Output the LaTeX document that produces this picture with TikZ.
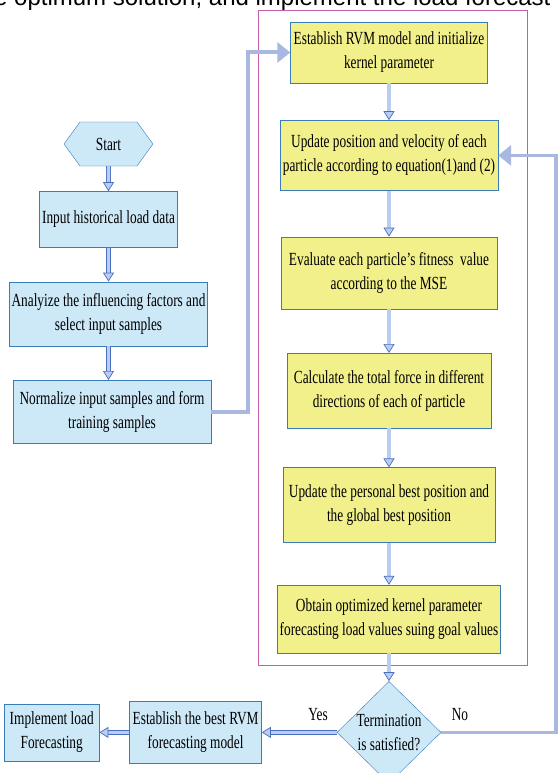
\documentclass[tikz,border=0pt]{standalone}
\usepackage{fontspec}
\setmainfont[FakeStretch=0.72]{Liberation Serif}
\newfontfamily\capfont{Liberation Sans}
\definecolor{yelbox}{RGB}{242,240,138}
\definecolor{cyanbox}{RGB}{205,232,247}
\definecolor{boxline}{RGB}{58,124,184}
\definecolor{connblue}{RGB}{168,184,224}
\definecolor{arrline}{RGB}{74,110,190}
\definecolor{arrfill}{RGB}{185,205,240}
\definecolor{framepink}{RGB}{200,92,168}
\usetikzlibrary{arrows.meta, positioning, shapes.geometric, shapes.symbols}

\begin{document}
\begin{tikzpicture}[
  x=1pt, y=-1pt,
  font=\fontsize{18.5}{24}\selectfont,
  ybox/.style={draw=boxline, fill=yelbox, align=center, inner sep=2pt},
  cbox/.style={draw=boxline, fill=cyanbox, align=center, inner sep=2pt},
  flow/.style={draw=arrline, double=arrfill, double distance=3.4pt, line width=0.7pt,
               -{Triangle[length=9pt, width=11pt, fill=arrfill]}},
  conn/.style={connblue, line width=4pt, -{Triangle[length=13pt, width=20pt]}},
  lbl/.style={inner sep=1pt}
]
\useasboundingbox (0,0) rectangle (557,773);

% caption cut at the top
\node[anchor=base west, inner sep=0pt, font=\capfont\fontsize{24}{26}\selectfont] (cap) at (-6,5.7)
  {e optimum solution, and implement the load forecast};

% RVM frame
\draw[framepink, line width=0.8pt] (258,10) rectangle (527,665);

% Right column
\node[ybox, minimum width=197pt, minimum height=61pt] (r1) at (389,52.5)
  {Establish RVM model and initialize\\kernel parameter};
\node[ybox, minimum width=218pt, minimum height=70pt, below=37pt of r1] (r2)
  {Update position and velocity of each\\particle according to equation(1)and (2)};
\node[ybox, minimum width=216pt, minimum height=72pt, below=46pt of r2] (r3)
  {Evaluate each particle's fitness\ \ value\\according to the MSE};
\node[ybox, minimum width=204pt, minimum height=75pt, below=44pt of r3] (r4)
  {Calculate the total force in different\\directions of each of particle};
\node[ybox, minimum width=212pt, minimum height=75pt, below=39pt of r4] (r5)
  {Update the personal best position and\\the global best position};
\node[ybox, minimum width=214pt, minimum height=68pt, below=42pt of r5] (r6)
  {Obtain optimized kernel parameter\\forecasting load values suing goal values};
\node[diamond, draw=boxline, fill=cyanbox, align=center, inner sep=0pt,
      minimum width=104pt, minimum height=102pt, below=28pt of r6] (dec)
  {Termination\\is satisfied?};

% Left column
\node[signal, signal to=east and west, signal pointer angle=108, draw=boxline, fill=cyanbox,
      minimum width=89pt, minimum height=44pt, inner sep=2pt] (start) at (108.5,144) {Start};
\node[cbox, minimum width=138pt, minimum height=56pt, below=25pt of start] (l1)
  {Input historical load data};
\node[cbox, minimum width=192pt, minimum height=64pt, below=34pt of l1] (l2)
  {Analyize the influencing factors and\\select input samples};
\node[cbox, minimum width=198pt, minimum height=63pt, below=34pt of l2, xshift=3.5pt] (l3)
  {Normalize input samples and form\\training samples};

% Bottom row
\node[cbox, minimum width=132pt, minimum height=62pt, left=75pt of dec] (b2)
  {Establish the best RVM\\forecasting model};
\node[cbox, minimum width=95pt, minimum height=57pt, left=30pt of b2] (b1)
  {Implement load\\Forecasting};

\draw[flow] (start) -- (l1);
\draw[flow] (l1) -- (l2);
\draw[flow] (l2) -- (l2 |- l3.north);
\draw[flow] (r1) -- (r2);
\draw[flow] (r2) -- (r3);
\draw[flow] (r3) -- (r4);
\draw[flow] (r4) -- (r5);
\draw[flow] (r5) -- (r6);
\draw[flow] (r6) -- (dec);
\draw[flow] (dec) -- (b2);
\draw[flow] (b2) -- (b1);

\draw[conn] (l3.east) -- ++(37,0) |- (r1.west);
\draw[conn, line width=3.5pt] (dec.east) -- ++(115,0) |- (r2.east);

\node[lbl] (yes) at (318,715) {Yes};
\node[lbl] (no) at (460,715) {No};
\end{tikzpicture}
\end{document}
